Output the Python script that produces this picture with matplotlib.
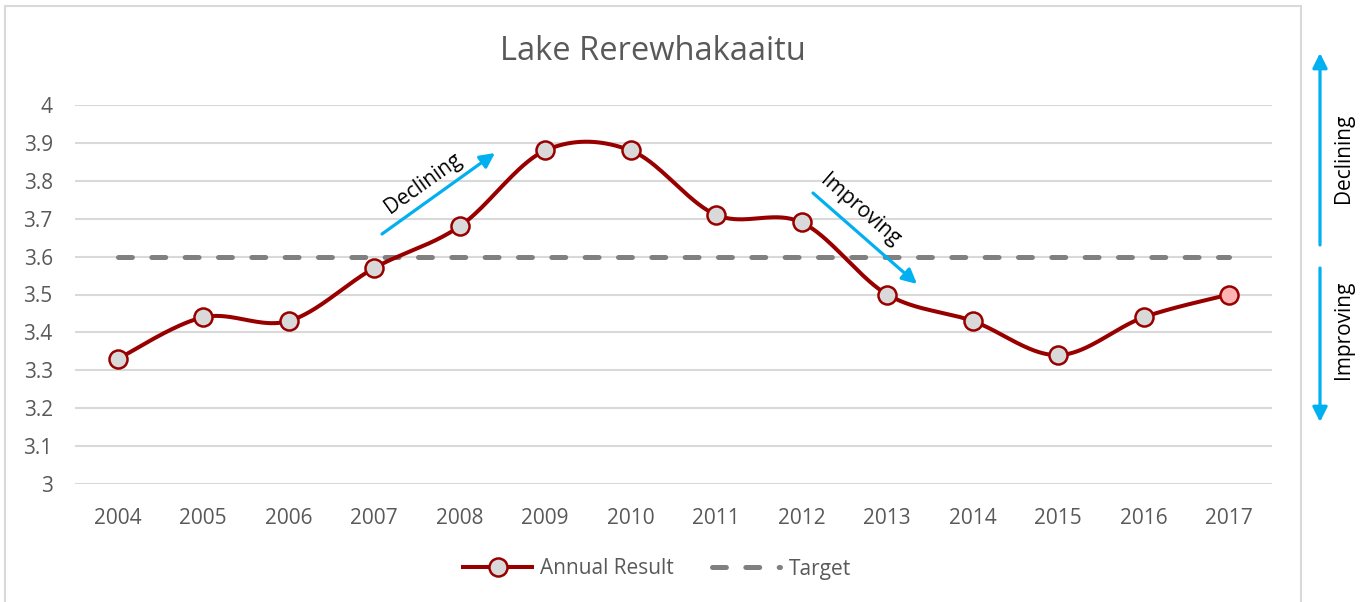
import numpy as np
import matplotlib
matplotlib.use("Agg")
import matplotlib.pyplot as plt
from matplotlib.lines import Line2D
from matplotlib.patches import Rectangle

years = ["2004", "2005", "2006", "2007", "2008", "2009", "2010",
         "2011", "2012", "2013", "2014", "2015", "2016", "2017"]
annualResult = [3.33, 3.44, 3.43, 3.57, 3.68, 3.88, 3.88,
                3.71, 3.69, 3.50, 3.43, 3.34, 3.44, 3.50]
target = 3.6
yTicks = [3, 3.1, 3.2, 3.3, 3.4, 3.5, 3.6, 3.7, 3.8, 3.9, 4]

W, H = 1363, 602
RED = "#980000"
BLUE = "#00B0F0"
GREY_TXT = "#595959"

plt.rcParams['font.family'] = ['Open Sans', 'DejaVu Sans']
plt.rcParams['lines.scale_dashes'] = False


def smoothCurve(xs, ys, n=40):
	# Excel style smoothing: cubic bezier with catmull-rom control points
	xs = np.asarray(xs, float)
	ys = np.asarray(ys, float)
	px = np.concatenate(([xs[0]], xs, [xs[-1]]))
	py = np.concatenate(([ys[0]], ys, [ys[-1]]))
	outX, outY = [], []
	t = np.linspace(0, 1, n)
	for i in range(1, len(px) - 2):
		p0 = np.array([px[i], py[i]])
		p3 = np.array([px[i + 1], py[i + 1]])
		c1 = p0 + (np.array([px[i + 1], py[i + 1]]) - np.array([px[i - 1], py[i - 1]])) / 6.0
		c2 = p3 - (np.array([px[i + 2], py[i + 2]]) - np.array([px[i], py[i]])) / 6.0
		for tt in t:
			b = ((1 - tt) ** 3) * p0 + 3 * ((1 - tt) ** 2) * tt * c1 + 3 * (1 - tt) * tt ** 2 * c2 + tt ** 3 * p3
			outX.append(b[0])
			outY.append(b[1])
	return np.array(outX), np.array(outY)


def fp(x, y):
	# pixel position (from top-left) to figure pixels
	return (x, H - y)


fig = plt.figure(figsize=(W / 100, H / 100), dpi=100)
ax = fig.add_axes([75 / W, (H - 484) / H, (1272 - 75) / W, (484 - 105) / H])

xPos = np.arange(len(years))
ax.set_xlim(-0.5, len(years) - 0.5)
ax.set_ylim(3, 4)
ax.set_yticks(yTicks)
ax.set_yticklabels(["{:g}".format(v) for v in yTicks])
ax.set_xticks(xPos)
ax.set_xticklabels(years)
ax.grid(axis='y', color="#D9D9D9", linewidth=1.5)
ax.set_axisbelow(True)
for s in ax.spines.values():
	s.set_visible(False)
ax.tick_params(axis='both', length=0, labelsize=15, colors=GREY_TXT)
ax.tick_params(axis='y', pad=16)
ax.tick_params(axis='x', pad=17)

# target line
ax.plot([xPos[0], xPos[-1]], [target, target], color="#808080", linewidth=3.6,
		linestyle=(0, (10, 14)), dash_capstyle='round', zorder=2)

# annual result smoothed
sx, sy = smoothCurve(xPos, annualResult)
ax.plot(sx, sy, color=RED, linewidth=2.9, solid_capstyle='round', zorder=3)
ax.plot(xPos[:-1], annualResult[:-1], linestyle='none', marker='o', markersize=13,
		markerfacecolor="#D9D9D9", markeredgecolor=RED, markeredgewidth=1.8, zorder=4)
ax.plot(xPos[-1:], annualResult[-1:], linestyle='none', marker='o', markersize=13,
		markerfacecolor="#FFB3B3", markeredgecolor=RED, markeredgewidth=1.8, zorder=4)

fig.text(653 / W, 1 - 52 / H, "Lake Rerewhakaaitu", ha='center', va='center',
		 fontsize=23.5, color=GREY_TXT)

# trend arrows inside plot
arrowProps = dict(arrowstyle='-|>', color=BLUE, lw=2.3, mutation_scale=22, shrinkA=0, shrinkB=0)
ax.annotate("", xy=fp(495, 153), xytext=fp(382, 234), xycoords='figure pixels',
			textcoords='figure pixels', arrowprops=arrowProps)
ax.annotate("", xy=fp(917, 284), xytext=fp(813, 193), xycoords='figure pixels',
			textcoords='figure pixels', arrowprops=arrowProps)
fig.text(423 / W, 1 - 183 / H, "Declining", rotation=35.6, rotation_mode='anchor',
		 ha='center', va='center', fontsize=15, color='black')
fig.text(860 / W, 1 - 210 / H, "Improving", rotation=-41, rotation_mode='anchor',
		 ha='center', va='center', fontsize=15, color='black')

# side arrows
ax.annotate("", xy=fp(1320, 53), xytext=fp(1320, 245), xycoords='figure pixels',
			textcoords='figure pixels', arrowprops=arrowProps, annotation_clip=False)
ax.annotate("", xy=fp(1320, 422), xytext=fp(1320, 268), xycoords='figure pixels',
			textcoords='figure pixels', arrowprops=arrowProps, annotation_clip=False)
fig.text(1343 / W, 1 - 158 / H, "Declining", rotation=90, ha='center', va='center',
		 fontsize=15, color='black')
fig.text(1343 / W, 1 - 330 / H, "Improving", rotation=90, ha='center', va='center',
		 fontsize=15, color='black')

# chart border
fig.patches.append(Rectangle((5 / W, -0.01), (1301 - 5) / W, 1 - 6 / H + 0.01,
							 transform=fig.transFigure, fill=False,
							 edgecolor="#D9D9D9", linewidth=1.5))

handles = [
	Line2D([], [], color=RED, linewidth=2.9, marker='o', markersize=13,
		   markerfacecolor="#D9D9D9", markeredgecolor=RED, markeredgewidth=1.8),
	Line2D([], [], color="#808080", linewidth=3.6, linestyle=(0, (10, 14)),
		   dash_capstyle='round'),
]
fig.legend(handles, ["Annual Result", "Target"], loc='center',
		   bbox_to_anchor=(657 / W, 1 - 569 / H), ncol=2, frameon=False,
		   fontsize=15, labelcolor=GREY_TXT, handlelength=3.3, handletextpad=0.4,
		   columnspacing=1.8)

fig.savefig("out.png", dpi=100)
